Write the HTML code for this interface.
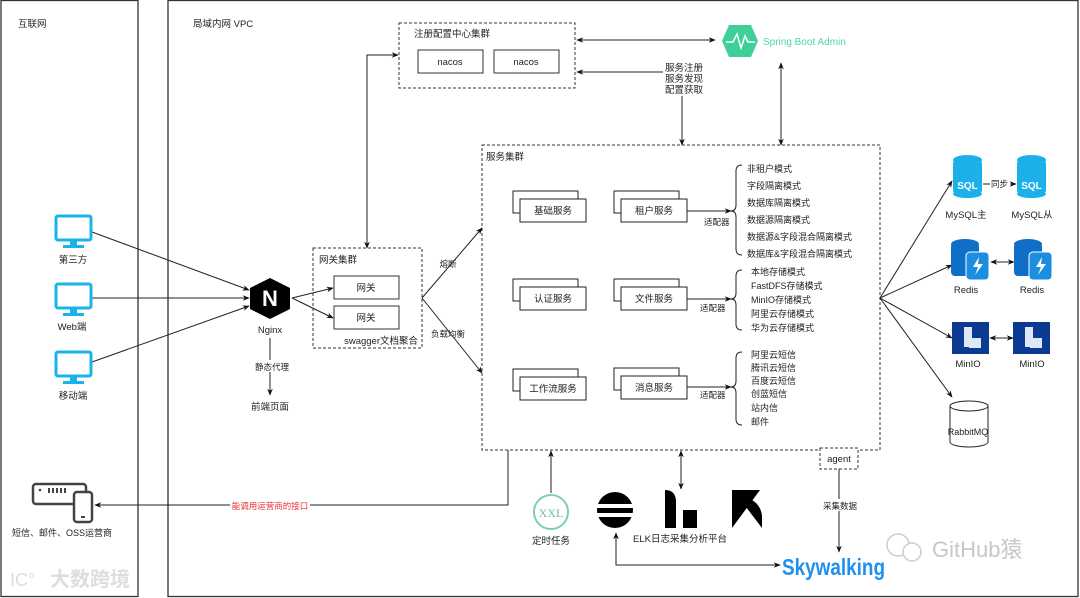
<!DOCTYPE html>
<html><head><meta charset="utf-8"><style>
html,body{margin:0;padding:0;background:#fff;}
svg{display:block;font-family:"Liberation Sans","Noto Sans CJK SC",sans-serif;}
text{fill:#222;}
</style></head><body>
<svg width="1080" height="598" viewBox="0 0 1080 598" xmlns="http://www.w3.org/2000/svg" font-size="9.5">
<defs>
<marker id="a" viewBox="0 0 10 10" refX="9" refY="5" markerWidth="7" markerHeight="7" orient="auto-start-reverse"><path d="M0,1 L10,5 L0,9 L3,5z" fill="#111"/></marker>
</defs>
<g fill="none" stroke="#333" stroke-width="1.3">
<rect x="1" y="0.5" width="137" height="596"/>
<rect x="168" y="0.5" width="910" height="596"/>
</g>
<text x="18" y="27">互联网</text>
<text x="193" y="27">局域内网 VPC</text>

<g stroke="#333" fill="none" stroke-dasharray="3,2" stroke-width="1">
<rect x="399" y="23" width="176" height="65"/>
<rect x="313" y="248" width="109" height="100"/>
<rect x="482" y="145" width="398" height="305"/>
<rect x="820" y="448" width="38" height="21" fill="#fff"/>
</g>
<text x="414" y="37">注册配置中心集群</text>
<g fill="#fff" stroke="#333" stroke-width="1">
<rect x="418" y="50" width="65" height="23"/><rect x="494" y="50" width="65" height="23"/>
<rect x="334" y="276" width="65" height="23"/><rect x="334" y="306" width="65" height="23"/>
</g>
<text x="450" y="65" text-anchor="middle">nacos</text><text x="526" y="65" text-anchor="middle">nacos</text>
<text x="319" y="263">网关集群</text>
<text x="366" y="291" text-anchor="middle">网关</text><text x="366" y="321" text-anchor="middle">网关</text>
<text x="418" y="344" text-anchor="end">swagger文档聚合</text>
<text x="486" y="160">服务集群</text>
<text x="839" y="462" text-anchor="middle">agent</text>

<g stroke="#222" stroke-width="1" fill="none">
<path d="M367 248 V55 H398" marker-end="url(#a)" marker-start="url(#a)"/>
<path d="M577 40 H715" marker-end="url(#a)" marker-start="url(#a)"/>
<path d="M665 72 H577" marker-end="url(#a)"/>
<path d="M682 95 V145" marker-end="url(#a)"/>
<path d="M781 63 V145" marker-end="url(#a)" marker-start="url(#a)"/>
<path d="M92 232 L249 290" marker-end="url(#a)"/>
<path d="M92 298 L249 298" marker-end="url(#a)"/>
<path d="M92 362 L249 306" marker-end="url(#a)"/>
<path d="M292 298 L333 288" marker-end="url(#a)"/>
<path d="M292 298 L333 318" marker-end="url(#a)"/>
<path d="M270 338 V395" marker-end="url(#a)"/>
<path d="M422 298 L482 228" marker-end="url(#a)"/>
<path d="M422 298 L482 373" marker-end="url(#a)"/>
<path d="M687 211 H731" marker-end="url(#a)"/>
<path d="M687 299 H731" marker-end="url(#a)"/>
<path d="M687 387 H731" marker-end="url(#a)"/>
<path d="M880 298 L952 181" marker-end="url(#a)"/>
<path d="M880 298 L952 265" marker-end="url(#a)"/>
<path d="M880 298 L952 338" marker-end="url(#a)"/>
<path d="M880 298 L952 397" marker-end="url(#a)"/>
<path d="M983 184 H1016" marker-end="url(#a)"/>
<path d="M991 262 H1014" marker-end="url(#a)" marker-start="url(#a)"/>
<path d="M990 338 H1013" marker-end="url(#a)" marker-start="url(#a)"/>
<path d="M508 450 V505 H95" marker-end="url(#a)"/>
<path d="M551 493 V451" marker-end="url(#a)"/>
<path d="M681 451 V489" marker-end="url(#a)" marker-start="url(#a)"/>
<path d="M839 469 V552" marker-end="url(#a)"/>
<path d="M616 533 V565 H780" marker-end="url(#a)" marker-start="url(#a)"/>
</g>
<rect x="663" y="60" width="40" height="36" fill="#fff"/>
<text x="665" y="71">服务注册</text><text x="665" y="82">服务发现</text><text x="665" y="93">配置获取</text>
<rect x="990" y="178" width="20" height="12" fill="#fff"/>
<text x="991" y="187" font-size="8.5">同步</text>
<rect x="827" y="499" width="26" height="12" fill="#fff"/>
<text x="840" y="509" text-anchor="middle" font-size="8.5">采集数据</text>
<rect x="230" y="499" width="80" height="12" fill="#fff"/>
<text x="270" y="509" text-anchor="middle" style="fill:#e53030" font-size="8.5">能调用运营商的接口</text>
<rect x="255" y="360" width="30" height="12" fill="#fff"/>
<text x="272" y="370" text-anchor="middle" font-size="8.5">静态代理</text>
<text x="270" y="410" text-anchor="middle">前端页面</text>
<text x="448" y="267" text-anchor="middle" font-size="8.5">熔断</text>
<text x="448" y="337" text-anchor="middle" font-size="8.5">负载均衡</text>

<g fill="#fff" stroke="#222" stroke-width="1">
<rect x="513" y="191" width="65" height="22"/><rect x="520" y="199" width="66" height="23"/>
<rect x="513" y="279" width="65" height="22"/><rect x="520" y="287" width="66" height="23"/>
<rect x="513" y="369" width="65" height="22"/><rect x="520" y="377" width="66" height="23"/>
<rect x="614" y="191" width="65" height="22"/><rect x="621" y="199" width="66" height="23"/>
<rect x="614" y="279" width="65" height="22"/><rect x="621" y="287" width="66" height="23"/>
<rect x="614" y="368" width="65" height="22"/><rect x="621" y="376" width="66" height="23"/>
</g>
<g text-anchor="middle">
<text x="553" y="214">基础服务</text><text x="553" y="302">认证服务</text><text x="553" y="392">工作流服务</text>
<text x="654" y="214">租户服务</text><text x="654" y="302">文件服务</text><text x="654" y="391">消息服务</text>
</g>
<text x="704" y="225" font-size="8.5">适配器</text>
<text x="700" y="311" font-size="8.5">适配器</text>
<text x="700" y="398" font-size="8.5">适配器</text>
<g stroke="#222" fill="none" stroke-width="1">
<path d="M742 165 Q736 165 736 171 V205 Q736 211 731 211 Q736 211 736 217 V249 Q736 255 742 255"/>
<path d="M742 270 Q736 270 736 276 V293 Q736 299 731 299 Q736 299 736 305 V324 Q736 330 742 330"/>
<path d="M742 352 Q736 352 736 358 V381 Q736 387 731 387 Q736 387 736 393 V419 Q736 425 742 425"/>
</g>
<g font-size="9">
<text x="747" y="172">非租户模式</text><text x="747" y="189">字段隔离模式</text><text x="747" y="206">数据库隔离模式</text><text x="747" y="223">数据源隔离模式</text><text x="747" y="240">数据源&amp;字段混合隔离模式</text><text x="747" y="257">数据库&amp;字段混合隔离模式</text>
<text x="751" y="275">本地存储模式</text><text x="751" y="289">FastDFS存储模式</text><text x="751" y="303">MinIO存储模式</text><text x="751" y="317">阿里云存储模式</text><text x="751" y="331">华为云存储模式</text>
<text x="751" y="358">阿里云短信</text><text x="751" y="371">腾讯云短信</text><text x="751" y="384">百度云短信</text><text x="751" y="397">创蓝短信</text><text x="751" y="411">站内信</text><text x="751" y="425">邮件</text>
</g>

<g fill="none" stroke="#1ab4ea" stroke-width="3">
<rect x="56" y="216" width="35" height="24" rx="2"/>
<rect x="56" y="284" width="35" height="24" rx="2"/>
<rect x="56" y="352" width="35" height="24" rx="2"/>
</g>
<g fill="#1ab4ea">
<rect x="70" y="240" width="7" height="5"/><rect x="63" y="245" width="21" height="3"/>
<rect x="70" y="308" width="7" height="5"/><rect x="63" y="313" width="21" height="3"/>
<rect x="70" y="376" width="7" height="5"/><rect x="63" y="381" width="21" height="3"/>
</g>
<text x="73" y="263" text-anchor="middle">第三方</text>
<text x="72" y="330" text-anchor="middle">Web端</text>
<text x="73" y="399" text-anchor="middle">移动端</text>

<polygon points="270,278 290,288 290,309 270,319 250,309 250,288" fill="#000"/>
<text x="270" y="306" text-anchor="middle" style="fill:#fff;font-weight:bold" font-size="22">N</text>
<text x="270" y="333" text-anchor="middle">Nginx</text>

<polygon points="729,25 751,25 758,41 751,57 729,57 722,41" fill="#3fcf98"/>
<path d="M726 42 H733 L737 34 L741 48 L745 36 L748 42 H755" stroke="#fff" stroke-width="1.5" fill="none"/>
<text x="763" y="45" style="fill:#4fd6a6" font-size="10">Spring Boot Admin</text>

<g fill="#1bb0ea">
<rect x="953" y="160" width="29" height="34" rx="4"/><ellipse cx="967.5" cy="160" rx="14.5" ry="5"/><ellipse cx="967.5" cy="194" rx="14.5" ry="4"/>
<rect x="1017" y="160" width="29" height="34" rx="4"/><ellipse cx="1031.5" cy="160" rx="14.5" ry="5"/><ellipse cx="1031.5" cy="194" rx="14.5" ry="4"/>
</g>
<text x="967.5" y="189" text-anchor="middle" style="fill:#fff;font-weight:bold" font-size="10">SQL</text>
<text x="1031.5" y="189" text-anchor="middle" style="fill:#fff;font-weight:bold" font-size="10">SQL</text>
<text x="966" y="218" text-anchor="middle">MySQL主</text>
<text x="1032" y="218" text-anchor="middle">MySQL从</text>

<g>
<rect x="951" y="243" width="28" height="33" rx="4" fill="#0f6fc6"/><ellipse cx="965" cy="244" rx="14" ry="5" fill="#0f6fc6"/>
<rect x="966" y="252" width="23" height="28" rx="4" fill="#1b8ee0" stroke="#fff"/>
<path d="M979 257 L973 267 H978 L975 275 L983 264 H978z" fill="#fff"/>
<rect x="1014" y="243" width="28" height="33" rx="4" fill="#0f6fc6"/><ellipse cx="1028" cy="244" rx="14" ry="5" fill="#0f6fc6"/>
<rect x="1029" y="252" width="23" height="28" rx="4" fill="#1b8ee0" stroke="#fff"/>
<path d="M1042 257 L1036 267 H1041 L1038 275 L1046 264 H1041z" fill="#fff"/>
</g>
<text x="966" y="293" text-anchor="middle">Redis</text>
<text x="1032" y="293" text-anchor="middle">Redis</text>

<rect x="952" y="322" width="37" height="32" fill="#0b3a92"/>
<rect x="1013" y="322" width="37" height="32" fill="#0b3a92"/>
<g fill="#dfe8f6"><rect x="964" y="327" width="8" height="20"/><rect x="969" y="338" width="12" height="10"/><rect x="1025" y="327" width="8" height="20"/><rect x="1030" y="338" width="12" height="10"/></g>
<text x="968" y="367" text-anchor="middle">MinIO</text>
<text x="1032" y="367" text-anchor="middle">MinIO</text>

<path d="M950 406 V442 A19 5 0 0 0 988 442 V406" fill="#fff" stroke="#222"/>
<ellipse cx="969" cy="406" rx="19" ry="5" fill="#fff" stroke="#222"/>
<text x="968" y="435" text-anchor="middle" font-size="9">RabbitMQ</text>

<g fill="none" stroke="#444" stroke-width="2.5">
<rect x="33" y="484" width="53" height="20" rx="3"/>
<rect x="74" y="492" width="18" height="30" rx="3" fill="#fff"/>
</g>
<g fill="#444"><circle cx="40" cy="490" r="1.3"/><rect x="48" y="488" width="2" height="5"/><rect x="52" y="488" width="2" height="5"/><rect x="56" y="488" width="2" height="5"/><rect x="60" y="488" width="2" height="5"/><rect x="64" y="488" width="2" height="5"/><rect x="81" y="516" width="4" height="2"/></g>
<text x="62" y="536" text-anchor="middle" font-size="9">短信、邮件、OSS运营商</text>

<circle cx="551" cy="512" r="17" fill="#fff" stroke="#7dcfae" stroke-width="2"/>
<text x="551" y="517" text-anchor="middle" style="fill:#6cc09f;font-family:'Liberation Serif',serif" font-size="12">XXL</text>
<text x="551" y="544" text-anchor="middle">定时任务</text>

<circle cx="615" cy="510" r="18" fill="#000"/>
<rect x="597" y="504" width="37" height="4" fill="#fff"/><rect x="597" y="513" width="37" height="4" fill="#fff"/>
<path d="M665 490 Q676 490 676 502 V528 H665z" fill="#000"/><rect x="683" y="510" width="14" height="18" fill="#000"/>
<polygon points="732,490 760,490 732,528" fill="#000"/><path d="M746 507 L762 528 V518 A20 20 0 0 0 752 500z" fill="#000"/>
<text x="680" y="542" text-anchor="middle">ELK日志采集分析平台</text>

<text x="782" y="575" style="fill:#1e90ef;font-weight:bold" font-size="23" textLength="103" lengthAdjust="spacingAndGlyphs">Skywalking</text>

<text x="932" y="557" style="fill:#c8c8c8" font-size="22">GitHub猿</text>
<circle cx="898" cy="545" r="11" fill="none" stroke="#ccc" stroke-width="1.5"/>
<circle cx="912" cy="552" r="9" fill="#fff" stroke="#ccc" stroke-width="1.5"/>
<text x="50" y="586" style="fill:#ddd;font-weight:bold" font-size="20">大数跨境</text>
<text x="10" y="586" style="fill:#ddd" font-size="18">IC°</text>
</svg>
</body></html>
